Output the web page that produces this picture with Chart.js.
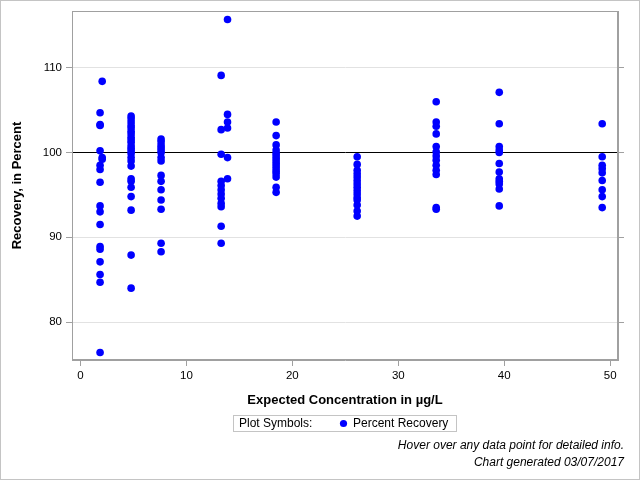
<!DOCTYPE html>
<html>
<head>
<meta charset="utf-8">
<script src="https://cdn.jsdelivr.net/npm/chart.js@4/dist/chart.umd.min.js"></script>
<style>
  html, body { margin: 0; padding: 0; background: #fff; }
  #wrap { width: 640px; height: 480px; position: relative; }
</style>
</head>
<body>
<div id="wrap"><canvas id="c" width="640" height="480"></canvas></div>
<script>
// ---- Data ----
const concentration = [
  2.05, 1.85, 1.85, 1.85, 1.85, 2.05, 2.05, 1.85, 1.85, 1.85, 1.85, 1.85, 1.85, 1.85, 1.85, 1.85, 1.85, 1.85, 1.85,
  4.78, 4.78, 4.78, 4.78, 4.78, 4.78, 4.78, 4.78, 4.78, 4.78, 4.78, 4.78, 4.78, 4.78, 4.78, 4.78, 4.78, 4.78, 4.78, 4.78, 4.78, 4.78, 4.78, 4.78,
  7.61, 7.61, 7.61, 7.61, 7.61, 7.61, 7.61, 7.61, 7.61, 7.61, 7.61, 7.61, 7.61, 7.61, 7.61,
  13.88, 13.28, 13.88, 13.88, 13.88, 13.28, 13.28, 13.88, 13.88, 13.28, 13.28, 13.28, 13.28, 13.28, 13.28, 13.28, 13.28, 13.28,
  18.47, 18.47, 18.47, 18.47, 18.47, 18.47, 18.47, 18.47, 18.47, 18.47, 18.47, 18.47, 18.47, 18.47, 18.47, 18.47,
  26.12, 26.12, 26.12, 26.12, 26.12, 26.12, 26.12, 26.12, 26.12, 26.12, 26.12, 26.12, 26.12, 26.12, 26.12,
  33.58, 33.58, 33.58, 33.58, 33.58, 33.58, 33.58, 33.58, 33.58, 33.58, 33.58, 33.58, 33.58,
  39.53, 39.53, 39.53, 39.53, 39.53, 39.53, 39.53, 39.53, 39.53, 39.53, 39.53, 39.53,
  49.25, 49.25, 49.25, 49.25, 49.25, 49.25, 49.25, 49.25, 49.25
];
const recovery = [
  108.4, 104.7, 103.3, 103.2, 100.2, 99.4, 99.2, 98.5, 98.0, 96.5, 93.7, 93.0, 91.5, 88.9, 88.6, 87.1, 85.6, 84.7, 76.4,
  104.3, 104.0, 103.6, 103.2, 102.9, 102.5, 102.2, 101.8, 101.5, 101.2, 100.8, 100.5, 100.2, 99.9, 99.4, 99.0, 98.4, 96.9, 96.6, 95.9, 94.8, 93.2, 87.9, 84.0,
  101.6, 101.3, 100.9, 100.6, 100.3, 100.0, 99.4, 99.0, 97.3, 96.6, 95.6, 94.4, 93.3, 89.3, 88.3,
  115.7, 109.1, 104.5, 103.6, 102.9, 102.7, 99.8, 99.4, 96.9, 96.6, 96.1, 95.6, 95.1, 94.6, 94.0, 93.6, 91.3, 89.3,
  103.6, 102.0, 100.9, 100.3, 99.9, 99.6, 99.3, 99.0, 98.7, 98.4, 98.1, 97.8, 97.5, 97.1, 95.9, 95.3,
  99.5, 98.6, 97.9, 97.5, 97.1, 96.7, 96.3, 95.9, 95.5, 95.1, 94.7, 94.4, 93.8, 93.1, 92.5,
  106.0, 103.6, 103.1, 102.2, 100.7, 100.1, 99.6, 99.1, 98.5, 97.9, 97.4, 93.5, 93.3,
  107.1, 103.4, 100.7, 100.3, 100.0, 98.7, 97.7, 96.9, 96.6, 96.3, 95.7, 93.7,
  103.4, 99.5, 98.5, 98.1, 97.6, 96.7, 95.6, 94.8, 93.5
];
const xTicks = [0, 10, 20, 30, 40, 50];
const yTicks = [80, 90, 100, 110];
const referenceValue = 100;
const seriesLabel = 'Percent Recovery';
const legendTitle = 'Plot Symbols:';
const xTitle = 'Expected Concentration in \u00b5g/L';
const yTitle = 'Recovery, in Percent';
const footnotes = ['Hover over any data point for detailed info.', 'Chart generated 03/07/2017'];

const FONT = "'Liberation Sans', Arial, sans-serif";
const AXIS_GRAY = '#a0a0a0';

const points = concentration.map((x, i) => ({ x: x, y: recovery[i] }));

const decorPlugin = {
  id: 'decor',
  beforeDraw(chart) {
    const ctx = chart.ctx;
    ctx.save();
    ctx.fillStyle = '#fff';
    ctx.fillRect(0, 0, chart.width, chart.height);
    ctx.restore();
  },
  afterDraw(chart) {
    const ctx = chart.ctx;
    const a = chart.chartArea;
    ctx.save();
    // plot frame
    ctx.strokeStyle = AXIS_GRAY;
    ctx.lineWidth = 1;
    ctx.strokeRect(Math.round(a.left) + 0.5, Math.round(a.top) + 0.5,
                   Math.round(a.right - a.left) - 1, Math.round(a.bottom - a.top) - 1);
    // outer border
    ctx.strokeStyle = '#c4c4c4';
    ctx.strokeRect(0.5, 0.5, chart.width - 1, chart.height - 1);

    // legend box
    const ds = chart.data.datasets[0];
    ctx.font = '12px ' + FONT;
    ctx.textBaseline = 'middle';
    ctx.textAlign = 'left';
    const lx = 233, ly = 415, lw = 224, lh = 16;
    ctx.strokeStyle = '#c4c4c4';
    ctx.strokeRect(lx + 0.5, ly + 0.5, lw - 1, lh);
    ctx.fillStyle = '#000';
    ctx.fillText(legendTitle, lx + 6, ly + 8.5);
    ctx.fillStyle = ds.backgroundColor;
    ctx.beginPath();
    ctx.arc(lx + 110.5, ly + 8.5, 3.6, 0, Math.PI * 2);
    ctx.fill();
    ctx.fillStyle = '#000';
    ctx.fillText(ds.label, lx + 120, ly + 8.5);

    // footnotes
    ctx.font = 'italic 12px ' + FONT;
    ctx.textAlign = 'right';
    ctx.fillText(footnotes[0], 624, 446);
    ctx.fillText(footnotes[1], 624, 463);
    ctx.restore();
  }
};

new Chart(document.getElementById('c'), {
  type: 'scatter',
  data: {
    datasets: [{
      label: seriesLabel,
      data: points,
      backgroundColor: '#0000ff',
      borderColor: '#0000ff',
      borderWidth: 0,
      pointRadius: 3.8,
      pointHoverRadius: 4.5
    }]
  },
  options: {
    responsive: false,
    animation: false,
    devicePixelRatio: 1,
    layout: { padding: { left: 0, right: 0, top: 11, bottom: 72 } },
    plugins: {
      legend: { display: false },
      title: { display: false },
      tooltip: { enabled: true }
    },
    scales: {
      x: {
        type: 'linear',
        position: 'bottom',
        min: -0.8,
        max: 50.74,
        afterBuildTicks: (s) => { s.ticks = xTicks.map(v => ({ value: v })); },
        afterFit: (s) => { s.height = 48; },
        grid: { drawOnChartArea: false, drawTicks: true, tickLength: 6, tickColor: AXIS_GRAY },
        border: { display: true, color: AXIS_GRAY },
        ticks: { color: '#000', padding: 3, font: { family: FONT, size: 11.5 }, maxRotation: 0 },
        title: { display: true, text: xTitle, color: '#000', padding: { top: 0, bottom: 0 },
                 font: { family: FONT, size: 13, weight: 'bold' } }
      },
      y: {
        type: 'linear',
        position: 'left',
        min: 75.52,
        max: 116.7,
        afterBuildTicks: (s) => { s.ticks = yTicks.map(v => ({ value: v })); },
        afterFit: (s) => { s.width = 72; },
        grid: {
          drawOnChartArea: true, drawTicks: true, tickLength: 6, tickColor: AXIS_GRAY,
          color: (c) => (c.tick && c.tick.value === referenceValue) ? '#000000' : '#e2e2e2',
          lineWidth: 1
        },
        border: { display: true, color: AXIS_GRAY },
        ticks: { color: '#000', padding: 4, font: { family: FONT, size: 11.5 } },
        title: { display: true, text: yTitle, color: '#000', padding: { top: 10, bottom: 0 },
                 font: { family: FONT, size: 13, weight: 'bold' } }
      },
      y2: {
        type: 'linear',
        position: 'right',
        min: 75.52,
        max: 116.7,
        afterBuildTicks: (s) => { s.ticks = yTicks.map(v => ({ value: v })); },
        afterFit: (s) => { s.width = 22; },
        grid: { drawOnChartArea: false, drawTicks: true, tickLength: 6, tickColor: AXIS_GRAY },
        border: { display: true, color: AXIS_GRAY },
        ticks: { display: false }
      }
    }
  },
  plugins: [decorPlugin]
});
</script>
</body>
</html>
